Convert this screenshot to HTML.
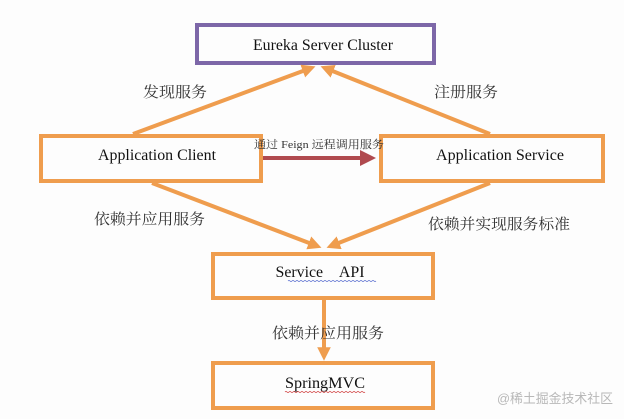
<!DOCTYPE html>
<html><head><meta charset="utf-8"><style>
html,body{margin:0;padding:0;background:#fff;}
svg{display:block}
</style></head><body>
<svg width="624" height="419" viewBox="0 0 624 419" xmlns="http://www.w3.org/2000/svg">
<defs>
<marker id="ao" markerWidth="3.4" markerHeight="3.4" refX="2.2" refY="1.7" orient="auto" markerUnits="strokeWidth"><path d="M0,0 L3.4,1.7 L0,3.4 z" fill="#ef9d4e"/></marker>
<marker id="ar" markerWidth="4" markerHeight="4" refX="2.5" refY="2" orient="auto" markerUnits="strokeWidth"><path d="M0,0 L4,2 L0,4 z" fill="#b04a4f"/></marker>
</defs>
<rect x="0" y="0" width="624" height="419" fill="#fdfdfd"/>
<g fill="none" stroke-width="4">
<rect x="197" y="25" width="237" height="38" stroke="#7d67a8"/>
<rect x="41" y="136" width="220" height="45" stroke="#ef9d4e"/>
<rect x="381" y="136" width="222" height="45" stroke="#ef9d4e"/>
<rect x="213" y="254" width="220" height="44" stroke="#ef9d4e"/>
<rect x="213" y="363" width="220" height="45" stroke="#ef9d4e"/>
</g>
<g stroke="#ef9d4e" stroke-width="4" fill="none">
<line x1="133" y1="134" x2="311" y2="68" marker-end="url(#ao)"/>
<line x1="490" y1="134" x2="325" y2="68" marker-end="url(#ao)"/>
<line x1="152" y1="183" x2="317" y2="246" marker-end="url(#ao)"/>
<line x1="490" y1="183" x2="331" y2="246" marker-end="url(#ao)"/>
<line x1="324" y1="300" x2="324" y2="356" marker-end="url(#ao)"/>
</g>
<line x1="263" y1="158" x2="370" y2="158" stroke="#b04a4f" stroke-width="4" marker-end="url(#ar)"/>
<g font-family="Liberation Serif, serif" fill="#111" font-size="16" text-anchor="middle">
<text x="323" y="50" textLength="140" lengthAdjust="spacingAndGlyphs">Eureka Server Cluster</text>
<text x="157" y="160" textLength="118" lengthAdjust="spacingAndGlyphs">Application Client</text>
<text x="500" y="160" textLength="128" lengthAdjust="spacingAndGlyphs">Application Service</text>
<text x="320" y="277" textLength="89" lengthAdjust="spacingAndGlyphs">Service&#160;&#160;&#160;&#160;API</text>
<text x="325" y="388" textLength="80" lengthAdjust="spacingAndGlyphs">SpringMVC</text>
</g>
<path d="M288,281 q1,-1 2,0 t2,0 t2,0 t2,0 t2,0 t2,0 t2,0 t2,0 t2,0 t2,0 t2,0 t2,0 t2,0 t2,0 t2,0 t2,0 t2,0 t2,0 t2,0 t2,0 t2,0 t2,0 t2,0 t2,0 t2,0 t2,0 t2,0 t2,0 t2,0 t2,0 t2,0 t2,0 t2,0 t2,0 t2,0 t2,0 t2,0 t2,0 t2,0 t2,0 t2,0 t2,0 t2,0 t2,0" stroke="#5a6fd0" stroke-width="0.8" fill="none"/>
<path d="M285,392 q1,-1 2,0 t2,0 t2,0 t2,0 t2,0 t2,0 t2,0 t2,0 t2,0 t2,0 t2,0 t2,0 t2,0 t2,0 t2,0 t2,0 t2,0 t2,0 t2,0 t2,0 t2,0 t2,0 t2,0 t2,0 t2,0 t2,0 t2,0 t2,0 t2,0 t2,0 t2,0 t2,0 t2,0 t2,0 t2,0 t2,0 t2,0 t2,0 t2,0 t2,0" stroke="#d04040" stroke-width="0.8" fill="none"/>
<g font-family="Liberation Serif, Noto Serif CJK SC, serif" fill="#333" font-size="15">
<text x="143" y="97" textLength="64" lengthAdjust="spacingAndGlyphs">发现服务</text>
<text x="434" y="97" textLength="64" lengthAdjust="spacingAndGlyphs">注册服务</text>
<text x="94" y="224" textLength="111" lengthAdjust="spacingAndGlyphs">依赖并应用服务</text>
<text x="428" y="229" textLength="142" lengthAdjust="spacingAndGlyphs">依赖并实现服务标准</text>
<text x="272" y="338" textLength="112" lengthAdjust="spacingAndGlyphs">依赖并应用服务</text>
<text x="254" y="148" font-size="11" textLength="130" lengthAdjust="spacingAndGlyphs">通过 Feign 远程调用服务</text>
</g>
<text x="497" y="403" font-family="Liberation Sans, Noto Sans CJK SC, sans-serif" font-size="13" fill="#b8b8b8" textLength="116" lengthAdjust="spacingAndGlyphs">@稀土掘金技术社区</text>
</svg>
</body></html>
